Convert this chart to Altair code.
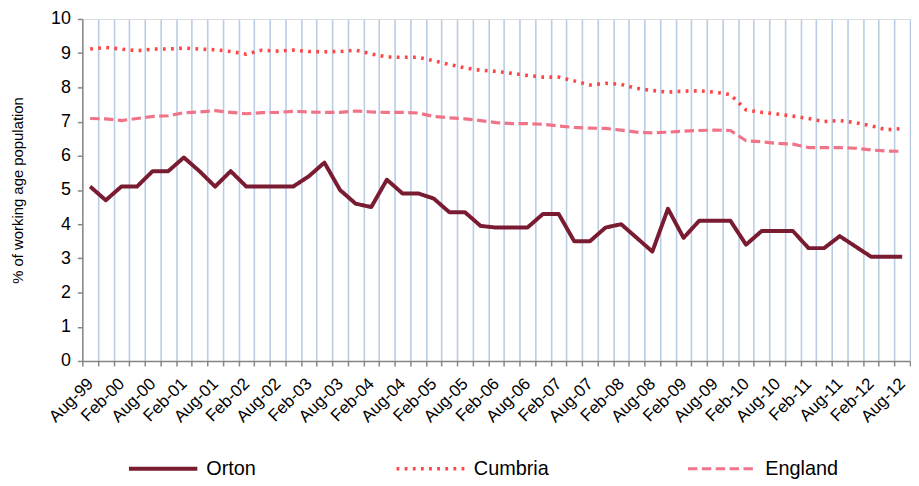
import altair as alt
import pandas as pd

periods = [
    "Aug-99", "Nov-99", "Feb-00", "May-00", "Aug-00", "Nov-00", "Feb-01", "May-01",
    "Aug-01", "Nov-01", "Feb-02", "May-02", "Aug-02", "Nov-02", "Feb-03", "May-03",
    "Aug-03", "Nov-03", "Feb-04", "May-04", "Aug-04", "Nov-04", "Feb-05", "May-05",
    "Aug-05", "Nov-05", "Feb-06", "May-06", "Aug-06", "Nov-06", "Feb-07", "May-07",
    "Aug-07", "Nov-07", "Feb-08", "May-08", "Aug-08", "Nov-08", "Feb-09", "May-09",
    "Aug-09", "Nov-09", "Feb-10", "May-10", "Aug-10", "Nov-10", "Feb-11", "May-11",
    "Aug-11", "Nov-11", "Feb-12", "May-12", "Aug-12",
]

orton = [
    5.1, 4.7, 5.1, 5.1, 5.55, 5.55, 5.95, 5.55, 5.1, 5.55,
    5.1, 5.1, 5.1, 5.1, 5.4, 5.8, 5.0, 4.6, 4.5, 5.3,
    4.9, 4.9, 4.75, 4.35, 4.35, 3.95, 3.9, 3.9, 3.9, 4.3,
    4.3, 3.5, 3.5, 3.9, 4.0, 3.6, 3.2, 4.45, 3.6, 4.1,
    4.1, 4.1, 3.4, 3.8, 3.8, 3.8, 3.3, 3.3, 3.65, 3.35,
    3.05, 3.05, 3.05,
]

cumbria = [
    9.12, 9.17, 9.12, 9.07, 9.12, 9.12, 9.15, 9.12, 9.1, 9.05,
    8.97, 9.09, 9.06, 9.09, 9.05, 9.04, 9.05, 9.09, 8.98, 8.89,
    8.88, 8.88, 8.78, 8.67, 8.57, 8.5, 8.47, 8.41, 8.35, 8.3,
    8.3, 8.19, 8.07, 8.12, 8.09, 7.97, 7.91, 7.86, 7.89, 7.9,
    7.86, 7.79, 7.34, 7.27, 7.22, 7.16, 7.09, 7.0, 7.03, 6.97,
    6.88, 6.76, 6.8,
]

england = [
    7.09, 7.08, 7.03, 7.09, 7.15, 7.17, 7.26, 7.28, 7.32, 7.27,
    7.23, 7.26, 7.27, 7.30, 7.28, 7.27, 7.27, 7.31, 7.28, 7.27,
    7.27, 7.25, 7.15, 7.11, 7.08, 7.03, 6.97, 6.94, 6.94, 6.92,
    6.87, 6.83, 6.81, 6.80, 6.75, 6.69, 6.67, 6.69, 6.72, 6.74,
    6.75, 6.74, 6.44, 6.41, 6.36, 6.34, 6.24, 6.24, 6.24, 6.22,
    6.17, 6.14, 6.13,
]

series_names = ["Orton", "Cumbria", "England"]
series_colors = ["#7A1C31", "#FF4545", "#F07388"]
series_dashes = [[1, 0], [2.8, 5.4], [9.5, 4.5]]
series_widths = [4, 3.2, 4.2]

rows = []
for name, vals in zip(series_names, [orton, cumbria, england]):
    for i, v in enumerate(vals):
        rows.append({"idx": i, "period": periods[i], "series": name, "value": v})
df = pd.DataFrame(rows)

n = len(periods)
label_js = "[" + ",".join("'" + p + "'" for p in periods) + "]"
tick_vals = [k - 0.5 for k in range(n + 1)] + list(range(0, n, 2))

legend = alt.Legend(
    title=None,
    orient="none",
    direction="horizontal",
    legendX=45,
    legendY=417,
    symbolType="stroke",
    symbolSize=4761,
    labelFontSize=20,
    labelFont="Liberation Sans",
    labelColor="black",
    labelOffset=7,
    columnPadding=133,
    padding=0,
)

chart = (
    alt.Chart(df)
    .mark_line(strokeJoin="round")
    .encode(
        x=alt.X(
            "idx:Q",
            scale=alt.Scale(domain=[-0.5, n - 0.5], nice=False, zero=False),
            axis=alt.Axis(
                values=tick_vals,
                labelExpr="datum.value % 2 == 0 ? " + label_js + "[datum.value] : ''",
                tickOpacity={"condition": {"test": "datum.value % 1 == 0", "value": 0}, "value": 1},
                gridOpacity={"condition": {"test": "datum.value % 1 == 0 || datum.value < 0", "value": 0}, "value": 1},
                grid=True,
                gridColor="#B9CDE5",
                gridWidth=1.6,
                labelAngle=-45,
                labelAlign="right",
                labelBaseline="middle",
                labelPadding=15,
                labelOverlap=False,
                labelFontSize=17,
                labelFont="Liberation Sans",
                labelColor="black",
                tickSize=5,
                tickColor="#868686",
                tickWidth=1.5,
                domainColor="#868686",
                domainWidth=1.5,
                title=None,
            ),
        ),
        y=alt.Y(
            "value:Q",
            scale=alt.Scale(domain=[0, 10], nice=False),
            axis=alt.Axis(
                values=list(range(11)),
                grid=False,
                tickSize=5,
                tickColor="#868686",
                tickWidth=1.5,
                domainColor="#868686",
                domainWidth=1.5,
                labelFontSize=18,
                labelFont="Liberation Sans",
                labelColor="black",
                labelPadding=7,
                title="% of working age population",
                titleFont="Liberation Sans",
                titleFontSize=15,
                titleFontWeight="normal",
                titleColor="black",
                titlePadding=25,
            ),
        ),
        color=alt.Color("series:N", scale=alt.Scale(domain=series_names, range=series_colors), legend=legend),
        strokeDash=alt.StrokeDash("series:N", scale=alt.Scale(domain=series_names, range=series_dashes), legend=legend),
        strokeWidth=alt.StrokeWidth("series:N", scale=alt.Scale(domain=series_names, range=series_widths), legend=legend),
    )
    .properties(
        width=835,
        height=345,
        autosize=alt.AutoSizeParams(type="none"),
        padding={"left": 75, "top": 9, "right": 1, "bottom": 118},
    )
    .configure_view(stroke=None)
    .configure(background="white")
)

chart.save("out.html", embed_options={"renderer": "svg", "actions": False})
